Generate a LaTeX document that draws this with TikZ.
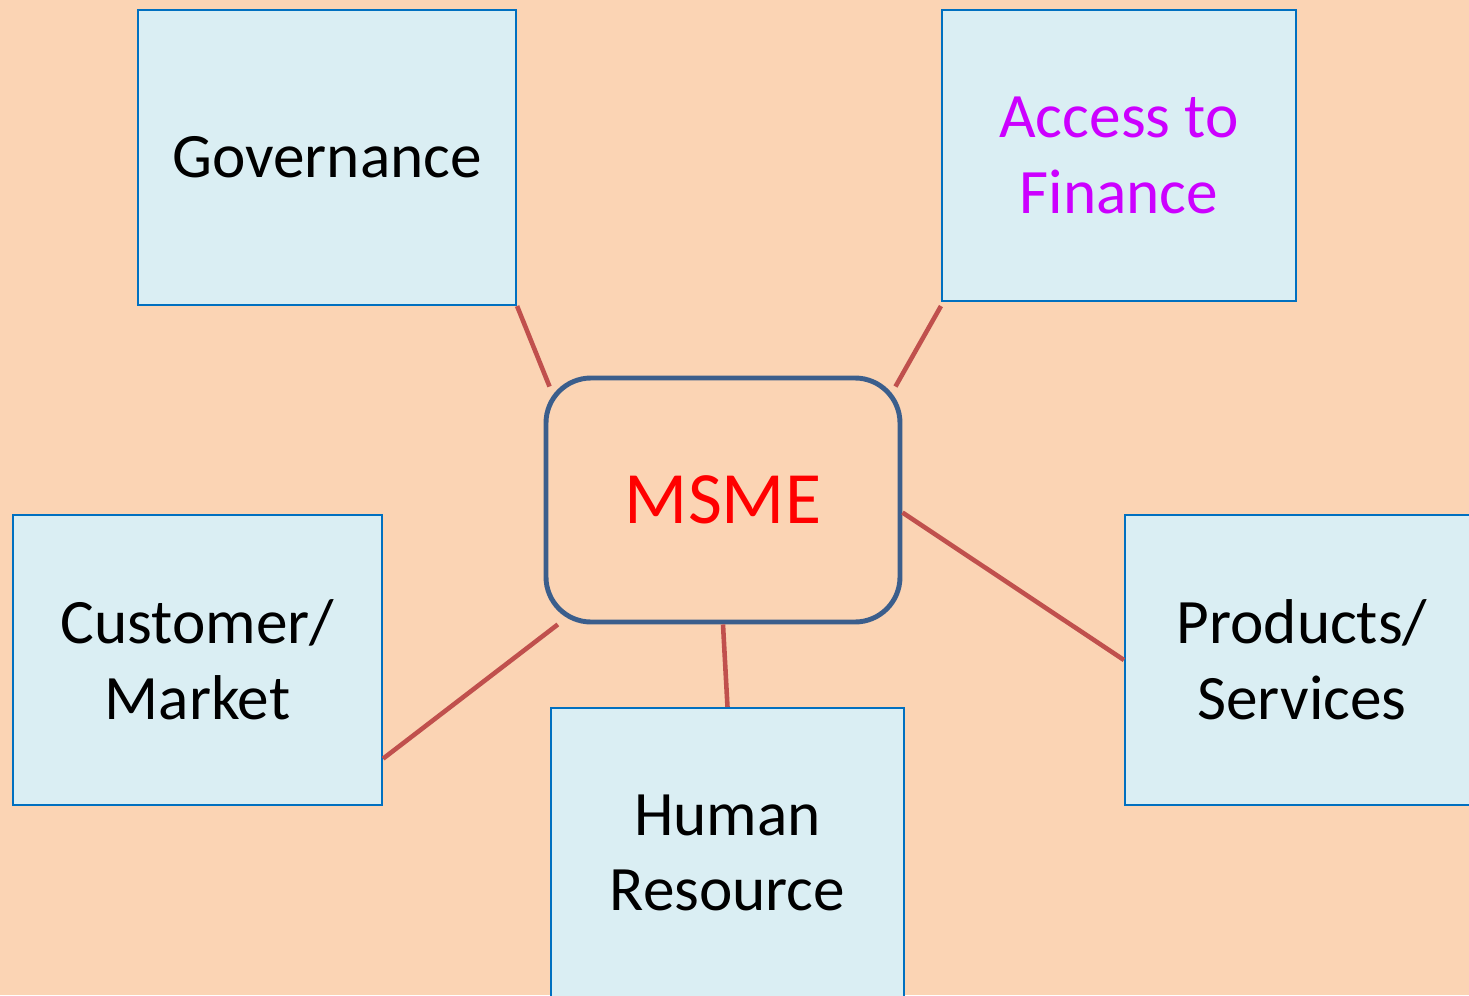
\documentclass[tikz,border=0pt]{standalone}
\usepackage{fontspec}
\setmainfont{Carlito}

\definecolor{bgtan}{HTML}{FBD4B4}
\definecolor{boxfill}{HTML}{DAEEF3}
\definecolor{boxline}{HTML}{0070C0}
\definecolor{hubline}{HTML}{3B5E8C}
\definecolor{linkred}{HTML}{C0504D}
\definecolor{finmagenta}{HTML}{CC00FF}

\begin{document}
\begin{tikzpicture}[
	topic/.style={rectangle, fill=boxfill, draw=boxline, line width=0.6pt, inner sep=0pt, align=center, font=\fontsize{18}{21.5}\selectfont},
	hub/.style={rectangle, rounded corners=0.45cm, fill=bgtan, draw=hubline, line width=1.4pt, minimum width=3.54cm, minimum height=2.44cm, text=red, font=\fontsize{21}{25}\selectfont},
	link/.style={draw=linkred, line width=1.3pt},
]

\useasboundingbox (0,0) rectangle (14.69,9.95);
\fill [bgtan] (0,0) rectangle (14.69,9.95);
\clip (0,0) rectangle (14.69,9.95);

\begin{scope}[]
%%% CENTRE
\node [hub] (msme) at (7.23,4.95) {MSME};
\end{scope}

\begin{scope}[]
%%% TOP ROW
\node [topic, minimum width=3.78cm, minimum height=2.95cm] (gov) at (3.27,8.375) {Governance};
\node [topic, minimum width=3.54cm, minimum height=2.91cm, text=finmagenta] (fin) at (11.19,8.395) {Access to\\Finance};
\end{scope}

\begin{scope}[]
%%% BOTTOM ROW
\node [topic, minimum width=3.69cm, minimum height=2.90cm] (cust) at (1.975,3.35) {Customer/\\Market};
\node [topic, minimum width=3.53cm, minimum height=2.90cm] (hr) at (7.275,1.42) {Human\\Resource};
\node [topic, minimum width=3.54cm, minimum height=2.90cm] (prod) at (13.02,3.35) {Products/\\Services};
\end{scope}

%%% LINKS
\draw [link] (gov.south east) -- ([xshift=0.06cm,yshift=-0.11cm]msme.north west);
\draw [link] ([yshift=-0.04cm]fin.south west) -- ([xshift=-0.07cm,yshift=-0.11cm]msme.north east);
\draw [link] (cust.-28) -- (msme.217);
\draw [link] (hr.north) -- (msme.south);
\draw [link] (prod.west) -- (msme.-4);

\end{tikzpicture}
\end{document}
